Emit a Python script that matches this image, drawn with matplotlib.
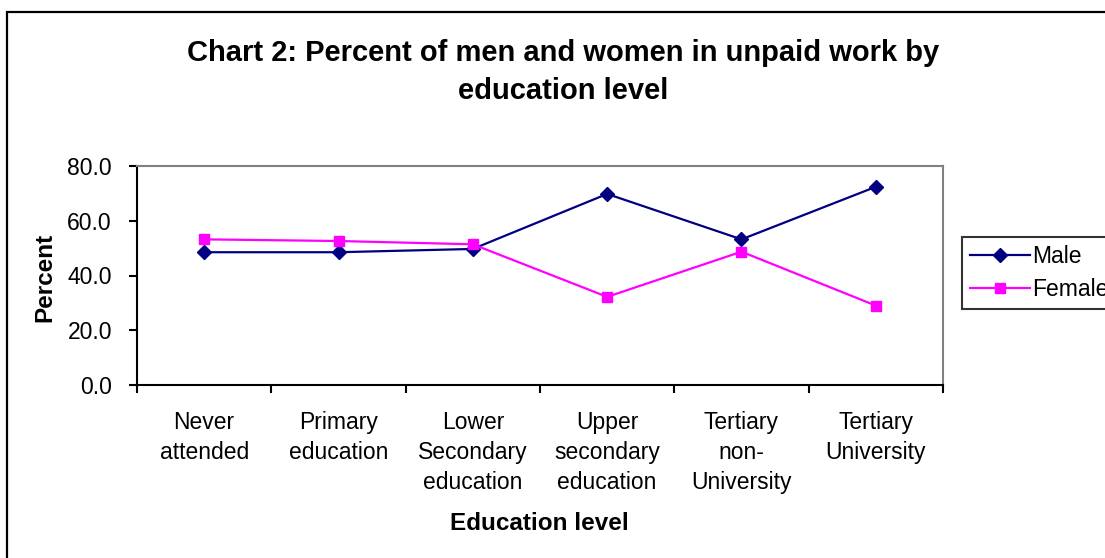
import matplotlib
matplotlib.use("Agg")
import matplotlib.pyplot as plt
from matplotlib.patches import Rectangle

categories = ["Never\nattended", "Primary\neducation", "Lower\nSecondary\neducation",
              "Upper\nsecondary\neducation", "Tertiary\nnon-\nUniversity", "Tertiary\nUniversity"]
male = [48.5, 48.5, 49.7, 69.8, 53.2, 72.4]
female = [53.2, 52.6, 51.4, 32.2, 48.7, 29.0]
yticks = [0, 20, 40, 60, 80]

plt.rcParams['font.family'] = ['Liberation Sans', 'DejaVu Sans']

W, H = 1105, 558
fig = plt.figure(figsize=(W / 100, H / 100), dpi=100)
fig.patch.set_facecolor('white')

# outer chart frame
fig.add_artist(Rectangle((7 / W, -0.05), 1.2, 1 - 12 / H + 0.05, transform=fig.transFigure,
                         fill=False, edgecolor='black', linewidth=1.6))

ax = fig.add_axes([137 / W, 1 - 385 / H, (943 - 137) / W, (385 - 166) / H])
x = list(range(len(categories)))
ax.plot(x, male, color='#000080', marker='D', markersize=7, linewidth=1.6, label='Male')
ax.plot(x, female, color='#FF00FF', marker='s', markersize=7.5, linewidth=1.6, label='Female')

ax.set_xlim(-0.5, len(categories) - 0.5)
ax.set_ylim(0, 80)
ax.set_yticks(yticks)
ax.set_yticklabels([f"{v:.1f}" for v in yticks], fontsize=16.5)
ax.set_xticks([i - 0.5 for i in range(len(categories) + 1)])
ax.set_xticklabels([])
ax.set_xticks(x, minor=True)
ax.set_xticklabels(categories, minor=True, fontsize=16.5, linespacing=1.38, va='top')
ax.tick_params(axis='x', which='minor', length=0, pad=19)
ax.tick_params(axis='x', which='major', direction='out', length=6, width=1.5)
ax.tick_params(axis='y', direction='out', length=6, width=1.5, pad=12)

for s in ['left', 'bottom']:
    ax.spines[s].set_color('black')
    ax.spines[s].set_linewidth(1.5)
for s in ['top', 'right']:
    ax.spines[s].set_color('#808080')
    ax.spines[s].set_linewidth(1.5)

fig.text(563 / W, 1 - 72 / H, "Chart 2: Percent of men and women in unpaid work by\neducation level",
         ha='center', va='center', fontsize=21, fontweight='bold', linespacing=1.45)
fig.text(539 / W, 1 - 524 / H, "Education level", ha='center', va='center',
         fontsize=17.5, fontweight='bold')
fig.text(45 / W, 1 - 277 / H, "Percent", ha='center', va='center', rotation=90,
         fontsize=17.5, fontweight='bold')

leg = fig.legend(loc='upper left', bbox_to_anchor=(962 / W, 1 - 237 / H), fontsize=16.5,
                 frameon=True, fancybox=False, edgecolor='black', handlelength=2.6,
                 handletextpad=0.1, borderpad=0.35, labelspacing=0.45, borderaxespad=0)
leg.get_frame().set_linewidth(1.5)

fig.savefig("out.png", dpi=100)
